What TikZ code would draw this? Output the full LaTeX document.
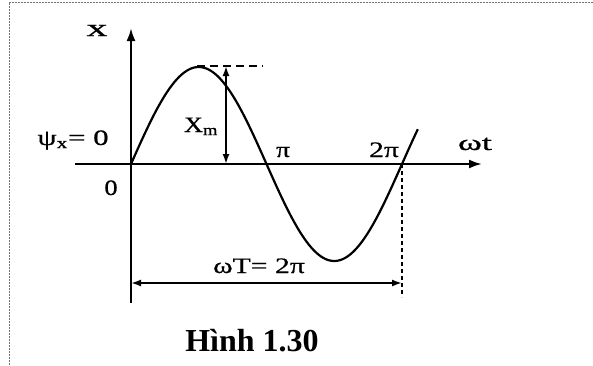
\documentclass[tikz,border=0pt]{standalone}
\usepackage{fontspec}
\usepackage{graphicx}
\setmainfont{Liberation Serif}
\newfontfamily\lblfont{Liberation Serif}[BoldFont={Liberation Serif}, BoldFeatures={FakeBold=0.6}]
\usetikzlibrary{arrows.meta}
\tikzset{
  axisline/.style={line width=2.2pt, -{Latex[length=13pt,width=9pt]}},
  wave/.style={line width=2.2pt},
  dimline/.style={line width=1.8pt, {Latex[length=10pt,width=7pt]}-{Latex[length=10pt,width=7pt]}},
  lbl/.style={inner sep=0pt, anchor=base, font=\fontsize{22}{22}\lblfont\bfseries},
  caption/.style={inner sep=0pt, anchor=base, font=\fontsize{32}{32}\selectfont\bfseries},
  frameline/.style={black!55, line width=0.8pt, dash pattern=on 2pt off 1pt},
  peakdash/.style={line width=1.6pt, dash pattern=on 8pt off 5pt},
  perioddash/.style={line width=2.4pt, dash pattern=on 4pt off 3pt},
}
\newcommand{\sxtxt}[2]{\scalebox{#1}[1]{#2}}
\begin{document}
\begin{tikzpicture}[x=1pt,y=-1pt]
\useasboundingbox (0,0) rectangle (593,365);
\fill[white] (0,0) rectangle (593,365);
\draw[frameline] (593,2) -- (9,2) -- (9,365);
% coordinates
\coordinate (xs) at (75,164);
\coordinate (xe) at (482,164);
\coordinate (yb) at (131,303);
\coordinate (yt) at (131,28);
\coordinate (pk) at (197,66);
\coordinate (pkend) at (263,66);
\coordinate (xmtop) at (226,66);
\coordinate (xmbot) at (226,164);
\coordinate (tp) at (402,164);
\coordinate (tb) at (402,297);
\coordinate (wl) at (131,283);
\coordinate (wr) at (402,283);
% axes
\draw[axisline] (xs) -- (xe);
\draw[axisline] (yb) -- (yt);
% sine wave (angle in degrees)
\draw[wave] plot[smooth, domain=0:381, samples=120] ({131+\x*0.75278},{164-97*sin(\x)});
% amplitude
\draw[peakdash] (pk) -- (pkend);
\draw[dimline] (xmtop) -- (xmbot);
% period
\draw[perioddash] (tp) -- (tb);
\draw[dimline] (wl) -- (wr);
% labels
\node[lbl, font=\fontsize{24}{24}\lblfont\bfseries] (lx) at (97,36) {\sxtxt{1.75}{x}};
\node[lbl] (lpsi) at (73,145) {\sxtxt{1.4}{ψ\textsubscript{x}= 0}};
\node[lbl] (lzero) at (111,195) {\sxtxt{1.2}{0}};
\node[lbl] (lxm) at (201,132) {\sxtxt{1.2}{X\textsubscript{m}}};
\node[lbl] (lpi) at (283,157) {\sxtxt{1.25}{π}};
\node[lbl] (l2pi) at (384,157) {\sxtxt{1.35}{2π}};
\node[lbl] (lwt) at (475,150) {\sxtxt{1.65}{ωt}};
\node[lbl] (lwT) at (259,273) {\sxtxt{1.35}{ωT= 2π}};
\node[caption] (cap) at (252,351) {Hình 1.30};
\end{tikzpicture}
\end{document}
